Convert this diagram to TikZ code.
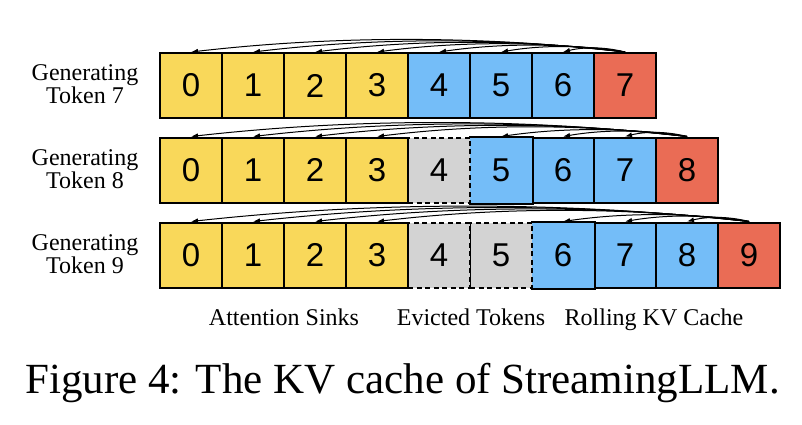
\documentclass[tikz,border=0pt]{standalone}
\usepackage{fontspec}
\setmainfont{Liberation Serif}
\newfontfamily\digitfont{Liberation Sans}
\usetikzlibrary{arrows.meta}
\definecolor{sinkY}{RGB}{249,216,90}
\definecolor{rollB}{RGB}{116,189,248}
\definecolor{genR}{RGB}{234,108,85}
\definecolor{evG}{RGB}{211,211,211}
\newcommand\kvarrows[3]{%
  \foreach \t in {#3} {
    \pgfmathsetmacro\dd{62*(#2-\t)}
    \pgfmathsetmacro\cc{\dd/3}
    \pgfmathsetmacro\kk{(2.5+0.023*\dd)/0.75}
    \draw[att] (c#1-#2.north) .. controls +(-\cc,-\kk) and +(\cc,-\kk) .. (c#1-\t.north);
  }}
\begin{document}
\begin{tikzpicture}[x=1pt,y=-1pt,
  tok/.style={minimum width=62pt, minimum height=65pt, inner sep=0pt, line width=2pt,
    font=\digitfont\fontsize{33}{33}\selectfont, anchor=center},
  sink/.style={tok, fill=sinkY, draw=black},
  roll/.style={tok, fill=rollB, draw=black},
  rollopen/.style={tok, fill=rollB},
  gen/.style={tok, fill=genR, draw=black},
  evict/.style={tok, fill=evG, draw=black, dash pattern=on 5pt off 3.5pt},
  openedge/.style={line width=2pt},
  rowlab/.style={font=\fontsize{24}{21}\selectfont, align=center},
  seclab/.style={font=\fontsize{24}{24}\selectfont, anchor=base},
  caplab/.style={font=\fontsize{43}{43}\selectfont, anchor=base},
  att/.style={-{Latex[length=7pt,width=5pt]}, line width=1pt},
]
\useasboundingbox (0,0) rectangle (802,424);

% Row 1
\foreach \i/\s in {7/gen,6/roll,5/roll,4/roll,3/sink,2/sink,1/sink,0/sink}
  \node[\s] (c1-\i) at (191+62*\i, 85.5) {\i};
% Row 2
\foreach \i/\s in {8/gen,7/roll,6/roll,5/rollopen}
  \node[\s] (c2-\i) at (191+62*\i, 170) {\i};
\draw[openedge] (c2-5.north west) -- (c2-5.north east) -- (c2-5.south east) -- (c2-5.south west);
\foreach \i/\s in {4/evict,3/sink,2/sink,1/sink,0/sink}
  \node[\s] (c2-\i) at (191+62*\i, 170) {\i};
% Row 3
\foreach \i/\s in {9/gen,8/roll,7/roll,6/rollopen}
  \node[\s] (c3-\i) at (191+62*\i, 255) {\i};
\draw[openedge] (c3-6.north west) -- (c3-6.north east) -- (c3-6.south east) -- (c3-6.south west);
\foreach \i/\s in {5/evict,4/evict,3/sink,2/sink,1/sink,0/sink}
  \node[\s] (c3-\i) at (191+62*\i, 255) {\i};

% attention arrows
\kvarrows{1}{7}{0,1,2,3,4,5,6}
\kvarrows{2}{8}{0,1,2,3,5,6,7}
\kvarrows{3}{9}{0,1,2,3,6,7,8}

% row labels
\node[rowlab] (l1) at (85, 84) {Generating\\Token 7};
\node[rowlab] (l2) at (85, 169) {Generating\\Token 8};
\node[rowlab] (l3) at (85, 254) {Generating\\Token 9};

% section labels
\node[seclab] (s1) at (284, 325) {Attention Sinks};
\node[seclab] (s2) at (471, 325) {Evicted Tokens};
\node[seclab] (s3) at (654, 325) {Rolling KV Cache};

% caption
\node[caplab] (cap) at (402.5, 393) {Figure 4: The KV cache of StreamingLLM.};
\end{tikzpicture}
\end{document}
